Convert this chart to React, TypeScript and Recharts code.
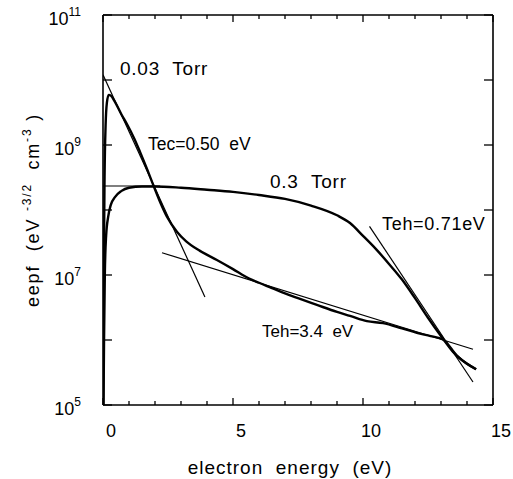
import React from "react";
import { LineChart, Line, XAxis, YAxis, ReferenceDot, Label } from "recharts";

const FONT = "'Liberation Sans', Arial, Helvetica, sans-serif";
const NB = "\u00a0";

// the picture uses the full window, so drop the default body margin
if (typeof document !== "undefined") document.body.style.margin = "0";

// 0.03 Torr
const lowX = [0.01, 0.03, 0.06, 0.1, 0.15, 0.22, 0.3, 0.46, 0.7, 0.92, 1.2, 1.42, 1.7, 1.92, 2.2, 2.46, 2.85, 3.2, 3.73, 4.38, 5.0, 5.6, 6.0, 6.5, 7.0, 7.5, 8.2, 9.0, 9.5, 10.15, 10.77, 11.5, 12.07, 12.6, 13.08, 13.6, 14.0, 14.35];
const lowEepf = [1.0e5, 1.0e7, 3.2e8, 2.0e9, 4.5e9, 5.9e9, 5.75e9, 4.6e9, 3.0e9, 2.1e9, 1.26e9, 7.9e8, 4.2e8, 2.5e8, 1.32e8, 7.9e7, 4.6e7, 3.3e7, 2.35e7, 1.7e7, 1.23e7, 8.9e6, 7.6e6, 6.3e6, 5.2e6, 4.4e6, 3.5e6, 2.7e6, 2.35e6, 1.95e6, 1.82e6, 1.51e6, 1.29e6, 1.15e6, 1.02e6, 5.8e5, 4.3e5, 3.55e5];

// 0.3 Torr
const highX = [0.02, 0.04, 0.07, 0.12, 0.2, 0.3, 0.46, 0.7, 1.0, 1.5, 2.0, 3.0, 4.0, 5.0, 6.0, 7.0, 8.0, 9.0, 9.5, 10.0, 10.5, 11.0, 11.5, 12.0, 12.5, 13.0, 13.5, 14.0, 14.35];
const highEepf = [1.0e5, 1.0e6, 1.0e7, 4.0e7, 7.9e7, 1.2e8, 1.58e8, 1.95e8, 2.2e8, 2.3e8, 2.3e8, 2.2e8, 2.05e8, 1.9e8, 1.7e8, 1.48e8, 1.17e8, 8.3e7, 6.3e7, 4.0e7, 2.5e7, 1.48e7, 8.5e6, 4.4e6, 2.2e6, 1.15e6, 6.3e5, 4.3e5, 3.55e5];

// fitted straight lines, end points
const tecX = [0, 3.92];
const tecEepf = [1.2e10, 4.6e6];
const flatX = [0, 2.2];
const flatEepf = [2.34e8, 2.34e8];
const teh34X = [2.27, 14.23];
const teh34Eepf = [2.2e7, 7.2e5];
const teh071X = [10.25, 14.23];
const teh071Eepf = [5.6e7, 2.26e5];

const xTicks = [0, 1, 2, 3, 4, 5, 6, 7, 8, 9, 10, 11, 12, 13, 14, 15];
const xLabelled = [0, 5, 10, 15];
const yTicks = [1e5, 1e6, 1e7, 1e8, 1e9, 1e10, 1e11];
const yLabelled = [1e5, 1e7, 1e9, 1e11];

const notes = [
  { text: `0.03${NB}${NB}Torr`, x: 0.65, eepf: 1.19e10, size: 19, spacing: 0.8 },
  { text: `Tec=0.50${NB}${NB}eV`, x: 1.73, eepf: 8.4e8, size: 17.5, spacing: 0 },
  { text: `0.3${NB}${NB}Torr`, x: 6.42, eepf: 2.18e8, size: 19, spacing: 0.8 },
  { text: "Teh=0.71eV", x: 10.73, eepf: 4.9e7, size: 18, spacing: 0.7 },
  { text: `Teh=3.4${NB}${NB}eV`, x: 6.115, eepf: 1.11e6, size: 17, spacing: 0 },
];

const pts = (xs: number[], ys: number[]) => xs.map((x, i) => ({ x, eepf: ys[i] }));

const lowPts = pts(lowX, lowEepf);
const highPts = pts(highX, highEepf);

const fits = [pts(tecX, tecEepf), pts(flatX, flatEepf), pts(teh34X, teh34Eepf), pts(teh071X, teh071Eepf)];

function BottomTick({ x, y, payload }: any) {
  const v = payload.value;
  const major = v % 5 === 0;
  return (
    <g>
      <line x1={x} x2={x} y1={y} y2={y - (major ? 7 : 4)} stroke="#000" strokeWidth={1.3} />
      {xLabelled.includes(v) && (
        <text x={x + 8} y={y + 32} textAnchor="middle" fontSize={18} fontFamily={FONT} fill="#000">
          {v}
        </text>
      )}
    </g>
  );
}

function TopTick({ x, y, payload }: any) {
  const major = payload.value % 5 === 0;
  return <line x1={x} x2={x} y1={y} y2={y + (major ? 7 : 4)} stroke="#000" strokeWidth={1.3} />;
}

function LeftTick({ x, y, payload }: any) {
  const v = payload.value;
  const exp = Math.round(Math.log10(v));
  return (
    <g>
      <line x1={x} x2={x + 9} y1={y} y2={y} stroke="#000" strokeWidth={1.3} />
      {yLabelled.includes(v) && (
        <text x={x - 22} y={y + 10} textAnchor="end" fontSize={18} fontFamily={FONT} fill="#000">
          <tspan>10</tspan>
          <tspan dy={-9} fontSize={12}>
            {exp}
          </tspan>
        </text>
      )}
    </g>
  );
}

function RightTick({ x, y }: any) {
  return <line x1={x} x2={x - 9} y1={y} y2={y} stroke="#000" strokeWidth={1.3} />;
}

const xTitle = (props: any) => {
  const vb = props.viewBox;
  return (
    <text x={vb.x + 187} y={vb.y + 69} textAnchor="middle" fontSize={19} letterSpacing={1} fontFamily={FONT} fill="#000">
      {`electron${NB}${NB}energy${NB}${NB}(eV)`}
    </text>
  );
};

const yTitle = (props: any) => {
  const vb = props.viewBox;
  const cx = 39;
  const cy = vb.y + 195;
  return (
    <text transform={`translate(${cx},${cy}) rotate(-90)`} textAnchor="middle" fontSize={18} letterSpacing={1.8} fontFamily={FONT} fill="#000">
      <tspan>{`eepf${NB}${NB}(eV${NB}`}</tspan>
      <tspan dy={-8} fontSize={12}>
        -3/2
      </tspan>
      <tspan dy={8}>{`${NB}${NB}cm`}</tspan>
      <tspan dy={-8} fontSize={12}>
        -3
      </tspan>
      <tspan dy={8}>{`${NB})`}</tspan>
    </text>
  );
};

export default function App() {
  return (
    <div style={{ width: 513, height: 479, background: "#fff" }}>
      <LineChart width={513} height={479} margin={{ top: 0, right: 0, bottom: 0, left: 0 }}>
        <XAxis
          xAxisId={0}
          dataKey="x"
          type="number"
          domain={[0, 15]}
          allowDataOverflow
          ticks={xTicks}
          interval={0}
          height={74}
          tickSize={0}
          tickMargin={0}
          tickLine={false}
          axisLine={{ stroke: "#000", strokeWidth: 1.6 }}
          tick={<BottomTick />}
        >
          <Label content={xTitle} />
        </XAxis>
        <XAxis
          xAxisId="top"
          orientation="top"
          dataKey="x"
          type="number"
          domain={[0, 15]}
          allowDataOverflow
          ticks={xTicks}
          interval={0}
          height={15}
          tickSize={0}
          tickMargin={0}
          tickLine={false}
          axisLine={{ stroke: "#000", strokeWidth: 1.6 }}
          tick={<TopTick />}
        />
        <YAxis
          yAxisId={0}
          type="number"
          scale="log"
          domain={[1e5, 1e11]}
          allowDataOverflow
          ticks={yTicks}
          interval={0}
          width={103}
          tickSize={0}
          tickMargin={0}
          tickLine={false}
          axisLine={{ stroke: "#000", strokeWidth: 1.6 }}
          tick={<LeftTick />}
        >
          <Label content={yTitle} />
        </YAxis>
        <YAxis
          yAxisId="right"
          orientation="right"
          type="number"
          scale="log"
          domain={[1e5, 1e11]}
          allowDataOverflow
          ticks={yTicks}
          interval={0}
          width={20}
          tickSize={0}
          tickMargin={0}
          tickLine={false}
          axisLine={{ stroke: "#000", strokeWidth: 1.6 }}
          tick={<RightTick />}
        />

        {fits.map((d, i) => (
          <Line
            key={i}
            data={d}
            dataKey="eepf"
            type="linear"
            stroke="#000"
            strokeWidth={1.2}
            dot={false}
            activeDot={false}
            isAnimationActive={false}
          />
        ))}
        <Line data={lowPts} dataKey="eepf" type="monotone" stroke="#000" strokeWidth={2.4} dot={false} activeDot={false} isAnimationActive={false} />
        <Line data={highPts} dataKey="eepf" type="monotone" stroke="#000" strokeWidth={2.4} dot={false} activeDot={false} isAnimationActive={false} />
        <Line
          xAxisId="top"
          yAxisId="right"
          data={lowPts}
          dataKey="eepf"
          stroke="none"
          strokeWidth={0}
          dot={false}
          activeDot={false}
          isAnimationActive={false}
        />

        {notes.map((n) => (
          <ReferenceDot
            key={n.text}
            x={n.x}
            y={n.eepf}
            r={0}
            ifOverflow="visible"
            shape={(p: any) => (
              <text x={p.cx} y={p.cy} fontSize={n.size} letterSpacing={n.spacing} fontFamily={FONT} fill="#000">
                {n.text}
              </text>
            )}
          />
        ))}
      </LineChart>
    </div>
  );
}
